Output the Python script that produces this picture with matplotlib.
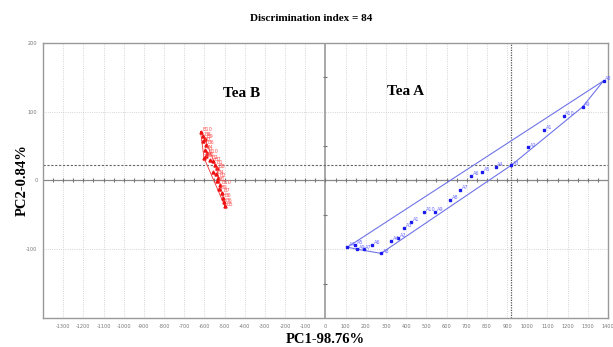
import numpy as np
import matplotlib.pyplot as plt

# Tea A scores (PC1, PC2)
tea_a_x = [1378, 1274, 1180, 1085, 1002, 920, 843, 774, 722, 668, 617, 543,
           490, 423, 389, 360, 324, 275, 229, 189, 158, 145, 109]
tea_a_y = [145, 107, 94, 74, 48, 22, 20, 13, 7, -14, -28, -46,
           -46, -60, -69, -83, -88, -106, -94, -100, -100, -94, -97]
tea_a_lab = ['A8', 'A9', 'A10', 'A1', 'A2', 'A3', 'A4', 'A5', 'A6', 'A7', 'A8', 'A9',
             'A10', 'A1', 'A3', 'A2', 'A4', 'A8', 'A6', 'A7', 'A9', 'A5', 'A4']

# Tea B scores
tea_b_x = [-619, -609, -598, -606, -593, -598, -602, -586, -593, -573, -557, -548,
           -540, -557, -543, -532, -540, -523, -527, -515, -510, -502, -499]
tea_b_y = [71, 64, 61, 57, 52, 45, 33, 40, 35, 30, 28, 23,
           18, 13, 9, 4, -1, -6, -13, -18, -25, -32, -37]
tea_b_lab = ['B10', 'B8', 'B9', 'B7', 'B6', 'B4', 'B3', 'B10', 'B5', 'B2', 'B7', 'B1',
             'B8', 'B3', 'B4', 'B2', 'B1', 'B10', 'B9', 'B7', 'B6', 'B6', 'B5']

xticks = list(range(-1300, 1500, 100))
yticks = [-100, 0, 100, 200]
hline_y = 22
vline_x = 920


def hull(xs, ys):
    pts = sorted(set(zip(xs, ys)))
    def cross(o, a, b):
        return (a[0]-o[0])*(b[1]-o[1]) - (a[1]-o[1])*(b[0]-o[0])
    lower, upper = [], []
    for p in pts:
        while len(lower) >= 2 and cross(lower[-2], lower[-1], p) <= 0:
            lower.pop()
        lower.append(p)
    for p in reversed(pts):
        while len(upper) >= 2 and cross(upper[-2], upper[-1], p) <= 0:
            upper.pop()
        upper.append(p)
    h = lower[:-1] + upper[:-1]
    h.append(h[0])
    return np.array(h)


plt.rcParams['font.family'] = ['Liberation Serif', 'DejaVu Serif']
fig = plt.figure(figsize=(6.13, 3.47), dpi=100)
ax = fig.add_axes([0.0701, 0.0836, 0.9217, 0.7925])

ax.set_xlim(-1400, 1400)
ax.set_ylim(-200, 200)

for x in xticks[:-1]:
    if x != 0:
        ax.axvline(x, color='#c8c8c8', lw=0.6, ls=':', zorder=0)
for y in [-100, 100]:
    ax.axhline(y, color='#c8c8c8', lw=0.6, ls=':', zorder=0)

ax.axvline(0, color='#999999', lw=1.2, zorder=1)
ax.axhline(0, color='#888888', lw=0.9, zorder=1)
tx = np.arange(-1350, 1400, 50)
ax.plot(tx, np.zeros_like(tx), ls='none', marker='|', ms=2.5, color='#777777', mew=0.8, zorder=1)
ty = np.array([-150, -50, 50, 150])
ax.plot(np.zeros_like(ty), ty, ls='none', marker='_', ms=2.5, color='#777777', mew=0.8, zorder=1)

ax.axhline(hline_y, color='#666666', lw=0.8, ls=(0, (2, 1.5)), zorder=1)
ax.axvline(vline_x, color='#555555', lw=0.9, ls=(0, (1, 1)), zorder=1)

ha = hull(tea_a_x, tea_a_y)
ax.plot(ha[:, 0], ha[:, 1], color='#6f74e6', lw=0.8, zorder=2)
ax.plot(tea_a_x, tea_a_y, ls='none', marker='s', ms=1.8, color='#1a1aee', zorder=3)
for x, y, s in zip(tea_a_x, tea_a_y, tea_a_lab):
    ax.annotate(s, (x, y), xytext=(1.3, 0.5), textcoords='offset points',
                fontsize=3.6, color='#6a6aff', family='DejaVu Sans', zorder=4)

hb = hull(tea_b_x, tea_b_y)
ax.plot(hb[:, 0], hb[:, 1], color='#f03030', lw=0.6, zorder=2)
ax.plot(tea_b_x, tea_b_y, ls='none', marker='^', ms=2.2, color='#ee1111', zorder=3)
for x, y, s in zip(tea_b_x, tea_b_y, tea_b_lab):
    ax.annotate(s, (x, y), xytext=(1.2, 0.3), textcoords='offset points',
                fontsize=3.6, color='#ff5050', family='DejaVu Sans', zorder=4)

ax.text(-415, 127, 'Tea B', fontsize=11, fontweight='bold', ha='center', va='center')
ax.text(395, 129, 'Tea A', fontsize=11, fontweight='bold', ha='center', va='center')

ax.set_xticks(xticks)
ax.set_xticklabels([str(v) for v in xticks], family='DejaVu Sans')
ax.set_yticks(yticks)
ax.set_yticklabels([str(v) for v in yticks], family='DejaVu Sans')
ax.tick_params(axis='both', labelsize=3.6, labelcolor='#777777', length=0, pad=4)
for sp in ax.spines.values():
    sp.set_color('#999999')
    sp.set_linewidth(1.0)

ax.set_xlabel('PC1-98.76%', fontsize=10.5, fontweight='bold', labelpad=3)
ax.set_ylabel('PC2-0.84%', fontsize=10.5, fontweight='bold')
ax.yaxis.set_label_coords(-0.025, 0.5)
fig.text(0.507, 0.948, 'Discrimination index = 84', fontsize=8, fontweight='bold',
         ha='center', va='center')

fig.savefig('out.png', dpi=100)
